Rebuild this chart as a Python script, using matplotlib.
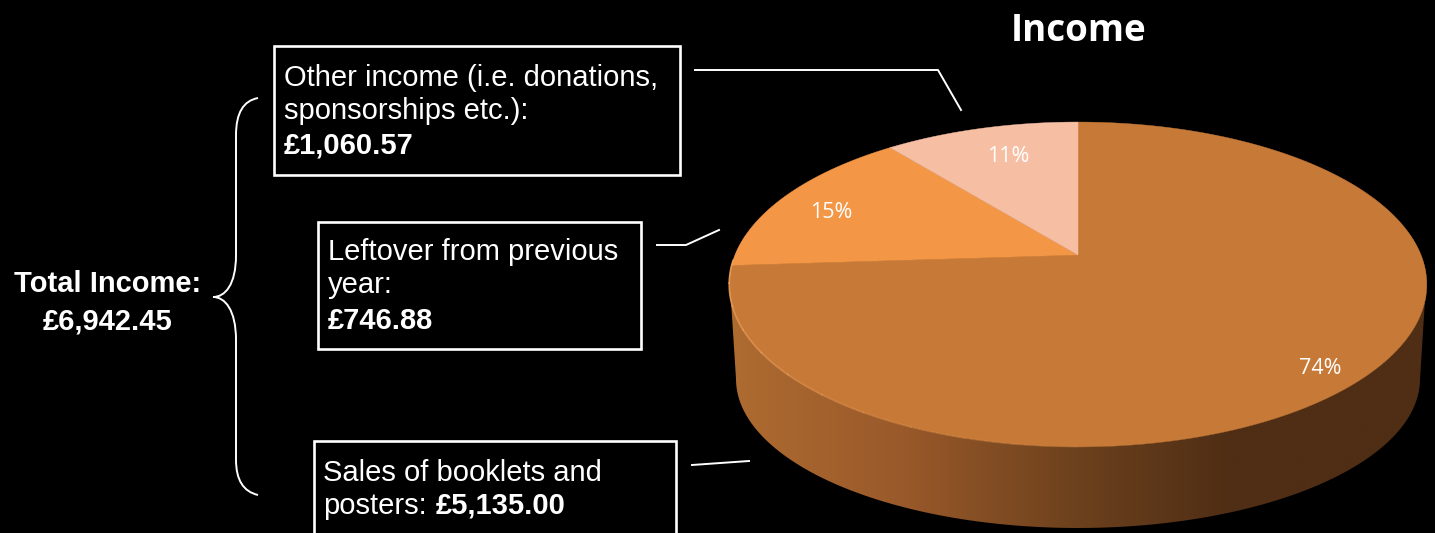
import numpy as np
import matplotlib
matplotlib.use('Agg')
from matplotlib import pyplot as plt
from matplotlib.patches import Polygon, Rectangle, PathPatch
from matplotlib.path import Path
from matplotlib.colors import LinearSegmentedColormap

#### data
categories = ['Sales of booklets and posters', 'Leftover from previous year', 'Other income']
income_values = [5135.00, 1060.57, 746.88]
slice_colors = ['#C77A37', '#F39646', '#F6BFA3']
title = 'Income'
total_lines = ['Total Income:', '£6,942.45']

#### pie geometry, in picture pixels
CX, CY = 1078, 255
A, B, K = 343, 157.1, 0.1815
LOW_CY, LOW_A, LOW_B = 379, 342, 149

def project(deg, r=1.0):
    ## deg is clockwise from 12 o'clock, k gives the perspective of the 3d pie
    t = np.radians(deg)
    u, v = r*np.sin(t), r*np.cos(t)
    d = 1 + K*v
    return CX + A*u/d, CY - B*v/d

fig = plt.figure(figsize=(14.35, 5.33), dpi=100, facecolor='black')
ax = fig.add_axes([0, 0, 1, 1])
ax.set_xlim(0, 1435)
ax.set_ylim(533, 0)
ax.axis('off')

#### side of the pie: horizontal gradient clipped to the outline
side_cmap = LinearSegmentedColormap.from_list('side', [
    (0.00, '#AE6C31'), (0.25, '#99592A'), (0.50, '#6C411D'),
    (0.72, '#4F2E15'), (1.00, '#4F2E15')])
t = np.radians(np.linspace(82, 278, 200))
top_edge = np.column_stack(project(np.degrees(t)))
left_x, left_y = project(262)
right_x, right_y = project(98)
low_t = np.radians(np.linspace(180, 0, 200))
low_edge = np.column_stack([CX + LOW_A*np.cos(low_t), LOW_CY + LOW_B*np.sin(low_t)])
outline = np.vstack([[[left_x, left_y]], low_edge, [[right_x, right_y]], top_edge])
side = Polygon(outline, closed=True, fc='none', ec='none')
ax.add_patch(side)
grad = ax.imshow(np.linspace(0, 1, 256).reshape(1, -1), cmap=side_cmap, aspect='auto',
                 extent=(729, 1426, 533, 200), zorder=1)
grad.set_clip_path(side)
ax.set_xlim(0, 1435)
ax.set_ylim(533, 0)

#### top of the pie
total = sum(income_values)
start = 0
for val, col in zip(income_values, slice_colors):
    end = start + val/total*360
    deg = np.linspace(start, end, 200)
    x, y = project(deg)
    pts = np.vstack([[[CX, CY]], np.column_stack([x, y])])
    ax.add_patch(Polygon(pts, closed=True, fc=col, ec=col, lw=0.3, zorder=2))
    start = end

## light rim on the front left, fading towards the front
rim = np.linspace(180, 268, 12)
for i in range(len(rim)-1):
    x, y = project(np.linspace(rim[i], rim[i+1], 20))
    ax.plot(x, y, color='#F0A05A', lw=1.2, alpha=0.08*(i+1), zorder=3)

#### percent labels
label_pos = [(1320, 369), (831, 212), (1008, 156)]
for val, (x, y) in zip(income_values, label_pos):
    ax.text(x, y, f'{val/total:.0%}', color='white', fontsize=15.5, ha='center', va='center',
            family='Open Sans', zorder=4)

ax.text(1079, 31, title, color='white', fontsize=26.5, fontweight='bold', ha='center', va='center',
        family='Open Sans')

#### boxes
for x0, y0, x1, y1 in [(274, 46, 680, 175), (318, 222, 641, 349), (314, 441, 676, 540)]:
    ax.add_patch(Rectangle((x0, y0), x1-x0, y1-y0, fc='black', ec='white', lw=1.9, zorder=5))

#### box texts
def txt(x, y, s, bold=False, ha='left'):
    ax.text(x, y, s, color='white', fontsize=21, fontweight='bold' if bold else 'normal',
            family='Liberation Sans', ha=ha, va='center', zorder=6)

txt(284, 78, 'Other income (i.e. donations,')
txt(284, 111, 'sponsorships etc.):')
txt(284, 146, '£1,060.57', bold=True)
txt(328, 252, 'Leftover from previous')
txt(328, 285, 'year:')
txt(328, 321, '£746.88', bold=True)
txt(323, 473, 'Sales of booklets and')
txt(323, 506, 'posters:')
txt(436, 506, '£5,135.00', bold=True)
txt(108, 284, total_lines[0], bold=True, ha='center')
txt(108, 321, total_lines[1], bold=True, ha='center')

#### leader lines
for xs, ys in [([695, 938, 961], [70, 70, 110]),
               ([657, 686, 719], [245, 245, 230]),
               ([692, 749], [465, 461])]:
    ax.plot(xs, ys, color='white', lw=1.4, zorder=5)

#### brace
verts = [(258, 98), (236, 102), (236, 135), (236, 255), (236, 285), (225, 297), (213, 297),
         (225, 297), (236, 310), (236, 340), (236, 460), (236, 490), (258, 495)]
codes = [Path.MOVETO, Path.CURVE3, Path.CURVE3, Path.LINETO, Path.CURVE4, Path.CURVE4, Path.CURVE4,
         Path.CURVE4, Path.CURVE4, Path.CURVE4, Path.LINETO, Path.CURVE3, Path.CURVE3]
ax.add_patch(PathPatch(Path(verts, codes), fc='none', ec='white', lw=1.4, zorder=5))

fig.savefig('out.png', dpi=100, facecolor='black')
